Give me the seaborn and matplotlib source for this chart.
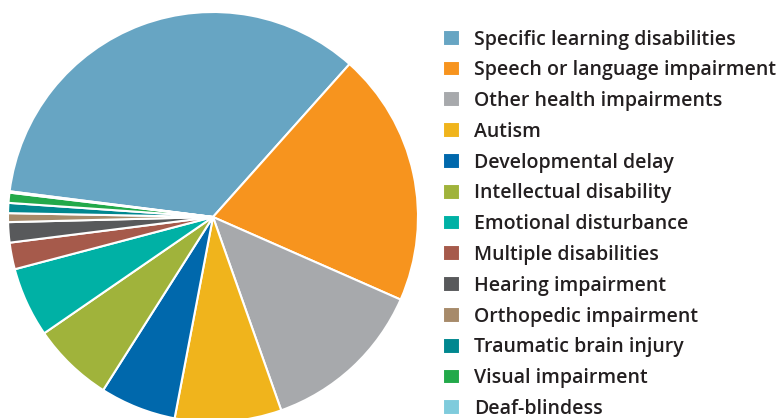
import matplotlib
matplotlib.use("Agg")
import matplotlib.pyplot as plt
import seaborn as sns

categories = ["Specific learning disabilities", "Speech or language impairment",
              "Other health impairments", "Autism", "Developmental delay",
              "Intellectual disability", "Emotional disturbance", "Multiple disabilities",
              "Hearing impairment", "Orthopedic impairment", "Traumatic brain injury",
              "Visual impairment", "Deaf-blindess"]
# percent of students served
shares = [34.6, 20.0, 13.0, 8.4, 6.0, 6.4, 5.5, 2.1, 1.6, 0.7, 0.8, 0.8, 0.1]
colors = ["#67a5c3", "#f7941e", "#a7a9ac", "#f0b41c", "#0068ac", "#a0b33b", "#00b1a5",
          "#a65a4b", "#58595b", "#a78a6a", "#00878f", "#22a94a", "#7fcbdc"]

sns.set_theme(style="white")
plt.rcParams['font.family'] = ['Open Sans', 'DejaVu Sans']

W, H = 776, 418
fig = plt.figure(figsize=(W / 100, H / 100), dpi=100)
# pie centre (213,217) px, radius 205 px
ax = fig.add_axes([8 / W, (H - 422) / H, 410 / W, 410 / H])
wedges, _ = ax.pie(shares, colors=sns.color_palette(colors), startangle=172.8,
                   counterclock=False, radius=1,
                   wedgeprops=dict(edgecolor="white", linewidth=1.5))
ax.set_xlim(-1, 1)
ax.set_ylim(-1, 1)
ax.set_aspect("equal")
ax.axis("off")

fs = 14.0
leg = fig.legend(wedges, categories, loc="upper left",
                 bbox_to_anchor=(443 / W, 1 - 29.5 / H), frameon=False,
                 borderpad=0, borderaxespad=0,
                 handlelength=0.875, handleheight=0.875, handletextpad=0.72,
                 labelspacing=0.555, prop=dict(size=fs, weight="semibold"))
for t in leg.get_texts():
    t.set_color("#231f20")

fig.savefig("out.png", dpi=100)
